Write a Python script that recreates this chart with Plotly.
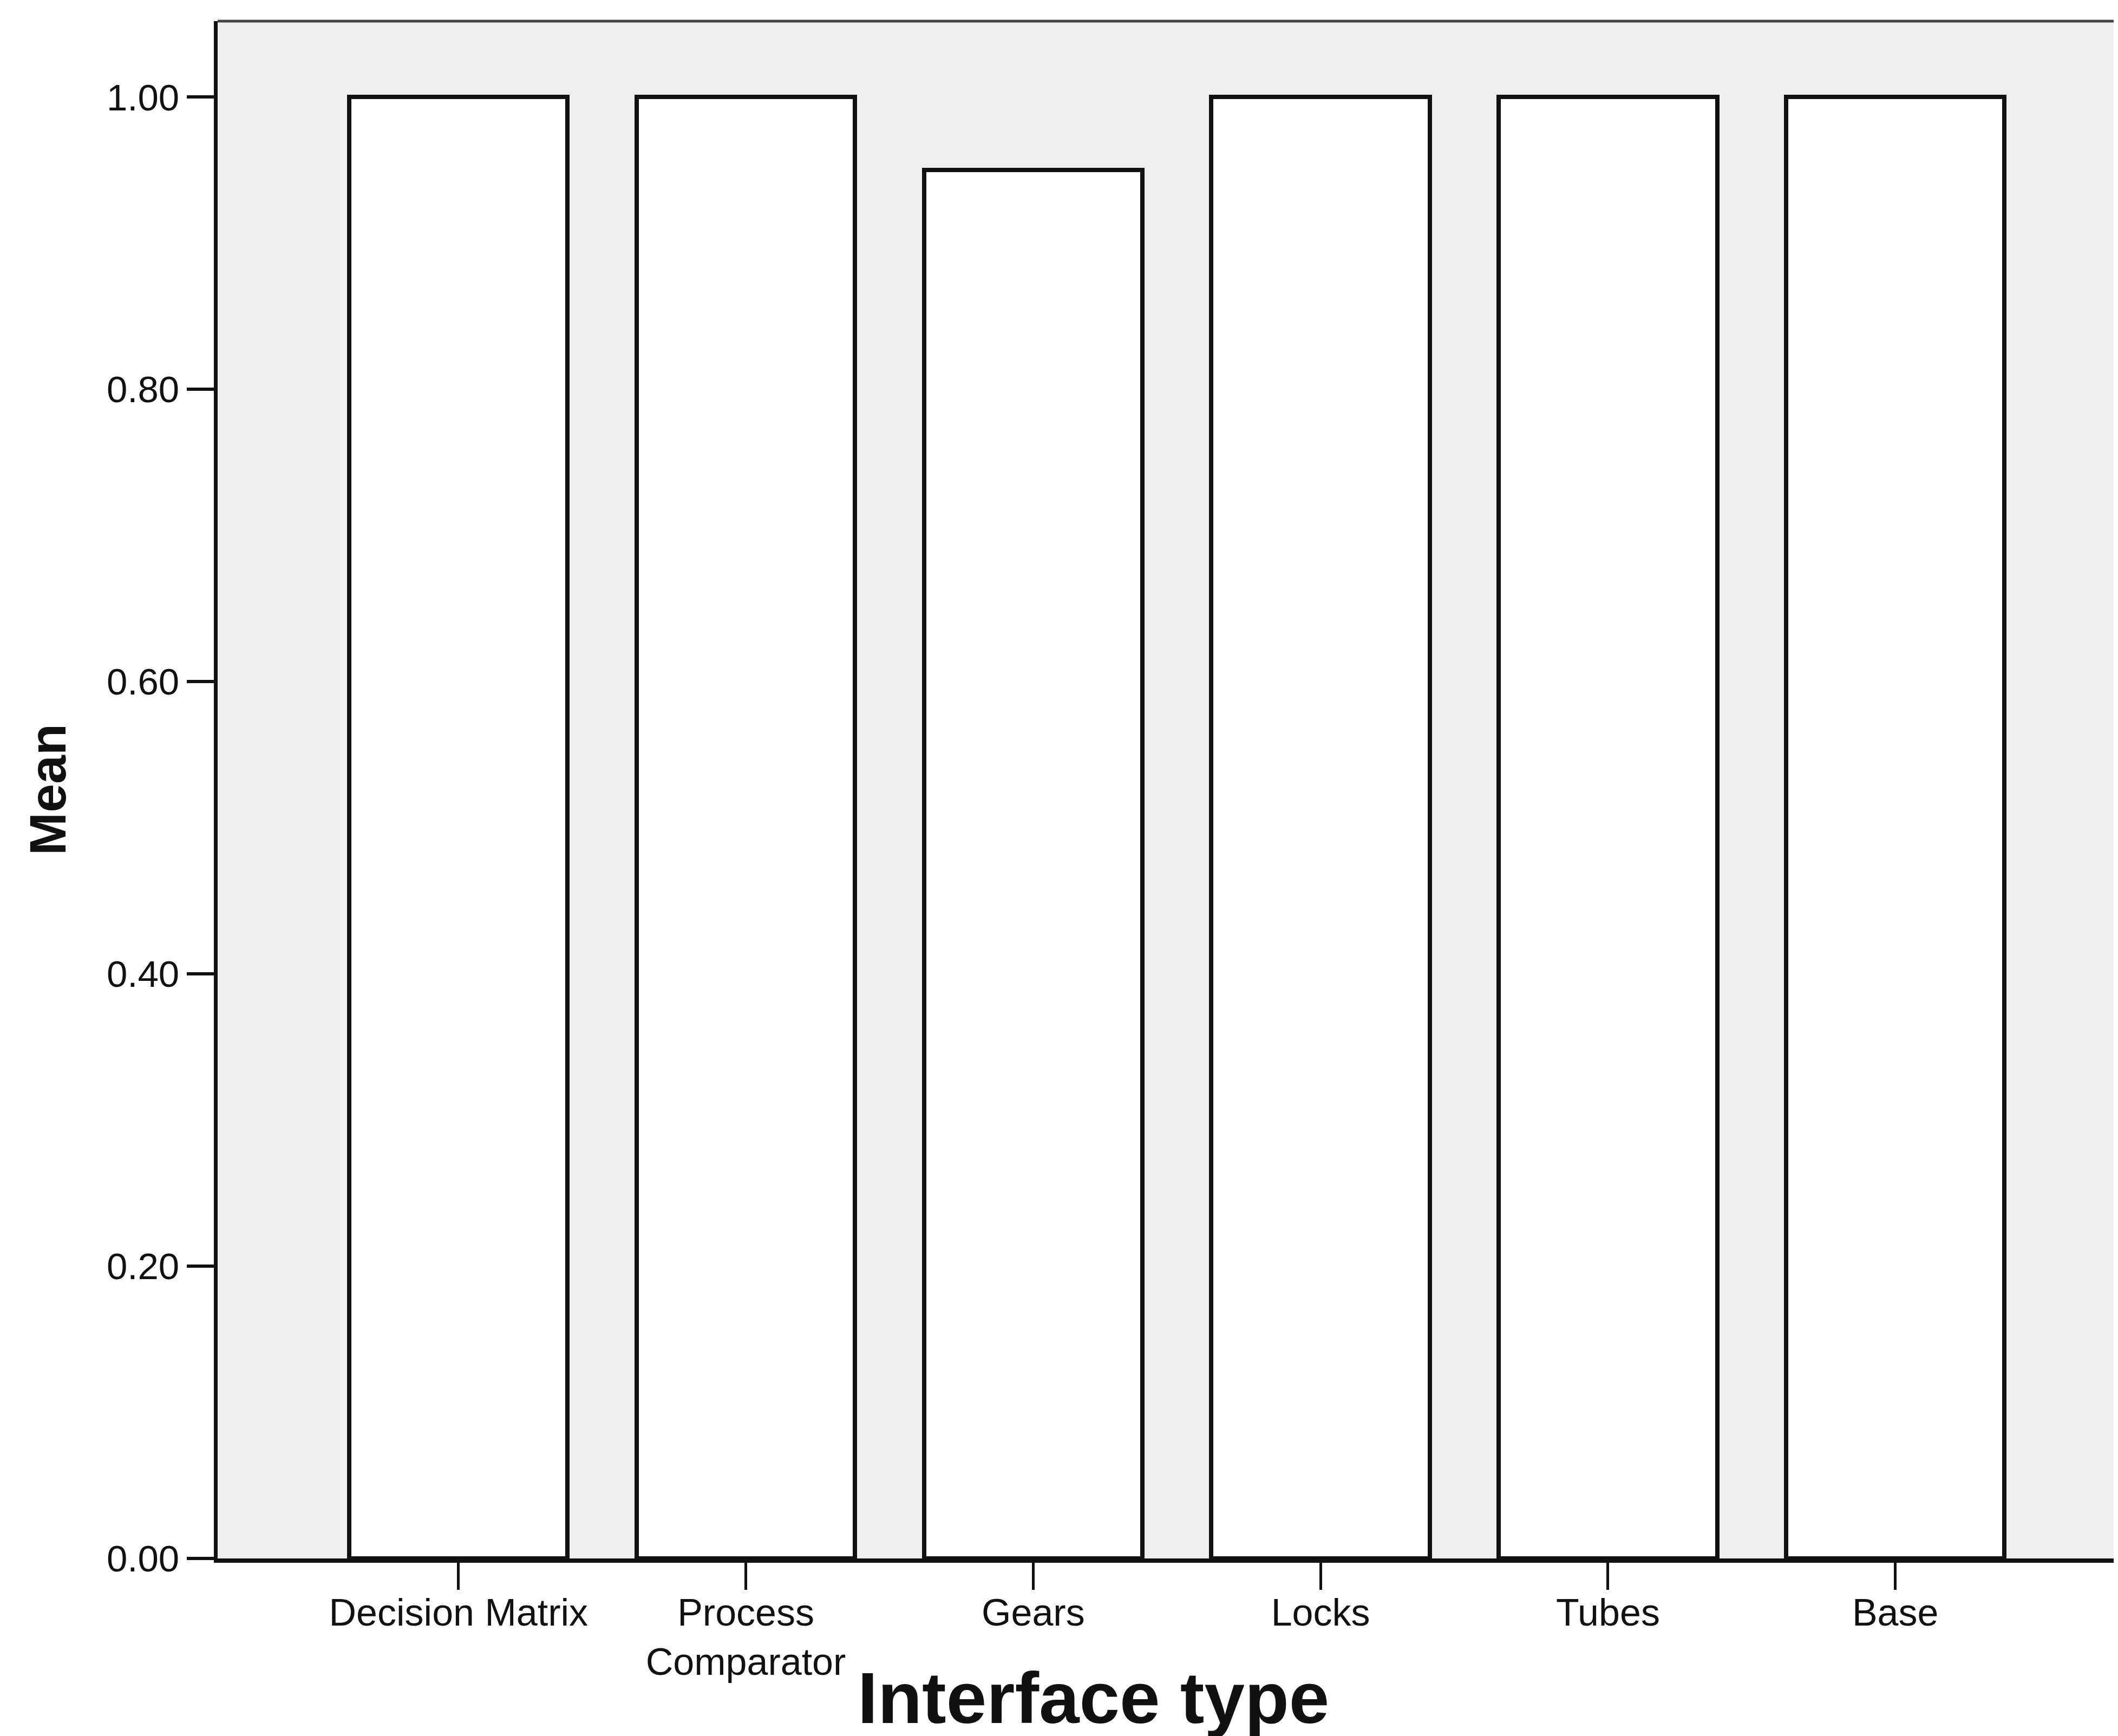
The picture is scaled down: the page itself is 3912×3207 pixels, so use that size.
import plotly.graph_objects as go

categories = ["Decision Matrix", "Process<br>Comparator", "Gears", "Locks", "Tubes", "Base"]
means = [1.00, 1.00, 0.95, 1.00, 1.00, 1.00]
y_ticks = [0.0, 0.2, 0.4, 0.6, 0.8, 1.0]

W, H = 3912, 3207
L, R, T, B = 394, 0, 31, 336

fig = go.Figure()
fig.add_trace(go.Bar(
    x=list(range(len(categories))),
    y=means,
    width=0.76,
    marker=dict(color="white", line=dict(color="#111111", width=8)),
    showlegend=False,
))

FONT = "Liberation Sans, Arial, Helvetica, sans-serif"

fig.update_layout(
    width=W, height=H,
    margin=dict(l=L, r=R, t=T, b=B, pad=0),
    paper_bgcolor="white",
    plot_bgcolor="#efefef",
    font=dict(family=FONT, color="#111111"),
    bargap=0,
    xaxis=dict(
        range=[-0.838, 5.79],
        tickmode="array",
        tickvals=list(range(len(categories))),
        ticktext=categories,
        ticks="outside", ticklen=50, tickwidth=5, tickcolor="#111111",
        tickfont=dict(size=70, family=FONT, color="#111111"),
        ticklabelstandoff=-18,
        showline=True, linecolor="#111111", linewidth=8,
        showgrid=False, zeroline=False,
        fixedrange=True,
    ),
    yaxis=dict(
        range=[0, 1.052],
        tickmode="array",
        tickvals=y_ticks,
        ticktext=[f"{v:.2f}" for v in y_ticks],
        ticks="outside", ticklen=50, tickwidth=6, tickcolor="#111111",
        tickfont=dict(size=69, family=FONT, color="#111111"),
        showline=True, linecolor="#111111", linewidth=7,
        showgrid=False, zeroline=False,
        fixedrange=True,
    ),
    shapes=[dict(type="line", xref="paper", yref="paper", x0=0, x1=1, y0=1, y1=1,
                 line=dict(color="#444444", width=5))],
    annotations=[
        dict(text="<b>Mean</b>", xref="paper", yref="paper",
             x=(80 - L) / (W - L - R), y=0.5, textangle=-90,
             xanchor="center", yanchor="middle", showarrow=False,
             font=dict(size=95, family=FONT, color="#111111")),
        dict(text="<b>Interface type</b>", xref="paper", yref="paper",
             x=(2011 - L) / (W - L - R), y=(H - B - 3128) / (H - T - B),
             xanchor="center", yanchor="middle", showarrow=False,
             font=dict(size=134, family=FONT, color="#111111")),
    ],
)

fig.write_html("out.html")
